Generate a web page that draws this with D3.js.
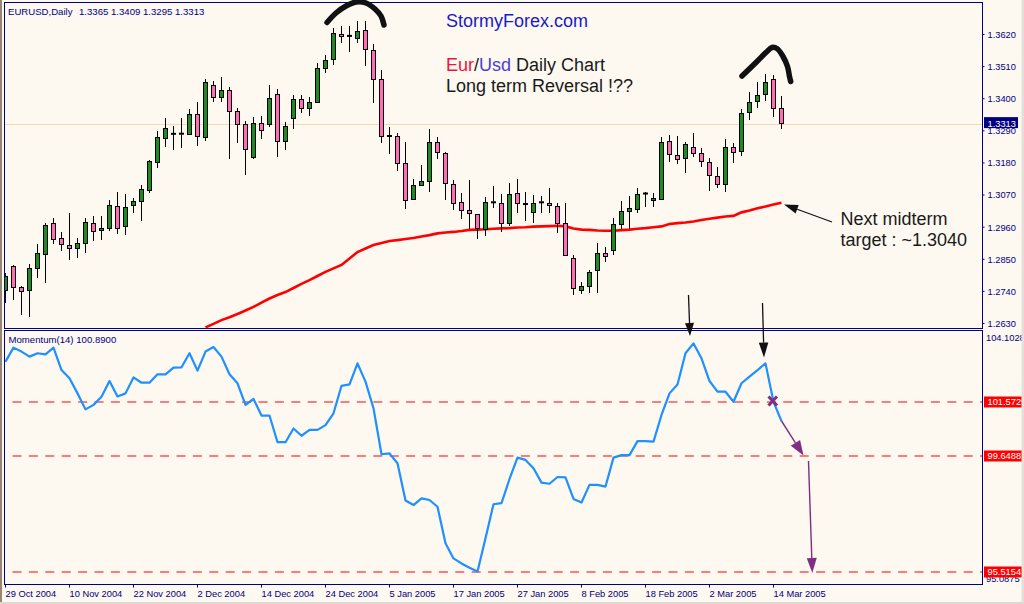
<!DOCTYPE html>
<html><head><meta charset="utf-8">
<script src="https://cdn.jsdelivr.net/npm/d3@7"></script>
<style>
html,body{margin:0;padding:0;background:#fdf8f0;}
svg{display:block;}
text{font-family:"Liberation Sans",Arial,sans-serif;}
</style></head><body>
<svg id="c" width="1024" height="604"></svg>
<script>
// ---------------- DATA ----------------
const tickLabels = ["29 Oct 2004","10 Nov 2004","22 Nov 2004","2 Dec 2004","14 Dec 2004","24 Dec 2004","5 Jan 2005","17 Jan 2005","27 Jan 2005","8 Feb 2005","18 Feb 2005","2 Mar 2005","14 Mar 2005"];
const tickBars = [0,8,16,24,32,40,48,56,64,72,80,88,96];
const priceTicks = [1.3620,1.3510,1.3400,1.3290,1.3180,1.3070,1.2960,1.2850,1.2740,1.2630];

const open = [1.2743,1.2825,1.2752,1.2741,1.2819,1.2867,1.2973,1.2920,1.2896,1.2888,
1.2903,1.2973,1.2946,1.2953,1.3030,1.2961,1.3033,1.3046,1.3083,1.3183,
1.3266,1.3277,1.3279,1.3277,1.3345,1.3266,1.3444,1.3403,1.3428,1.3355,
1.3311,1.3198,1.3314,1.3311,1.3413,1.3252,1.3331,1.3396,1.3365,1.3386,
1.3502,1.3533,1.3620,1.3614,1.3607,1.3633,1.3564,1.3465,1.3270,1.3270,
1.3177,1.3054,1.3102,1.3114,1.3249,1.3211,1.3105,1.3043,1.3016,1.3002,
1.2953,1.3043,1.3040,1.2972,1.3075,1.3038,1.3009,1.3043,1.3040,1.3030,
1.2972,1.2852,1.2746,1.2757,1.2812,1.2871,1.2880,1.2969,1.3015,1.3021,
1.3073,1.3049,1.3055,1.3254,1.3204,1.3194,1.3234,1.3213,1.3183,1.3134,
1.3106,1.3234,1.3220,1.3352,1.3388,1.3417,1.3465,1.3365];
const high = [1.2800,1.2829,1.2757,1.2832,1.2901,1.2972,1.2989,1.2942,1.3007,1.2920,
1.2990,1.2997,1.2997,1.3051,1.3079,1.3072,1.3057,1.3103,1.3188,1.3288,
1.3331,1.3305,1.3333,1.3362,1.3387,1.3465,1.3460,1.3473,1.3438,1.3367,
1.3322,1.3335,1.3340,1.3445,1.3432,1.3318,1.3411,1.3411,1.3405,1.3522,
1.3548,1.3640,1.3647,1.3646,1.3666,1.3666,1.3586,1.3497,1.3300,1.3282,
1.3249,1.3123,1.3171,1.3296,1.3268,1.3215,1.3120,1.3074,1.3120,1.3005,
1.3063,1.3100,1.3072,1.3109,1.3123,1.3078,1.3068,1.3065,1.3091,1.3040,
1.3040,1.2863,1.2771,1.2812,1.2903,1.2891,1.2989,1.3047,1.3066,1.3091,
1.3080,1.3076,1.3268,1.3274,1.3271,1.3249,1.3280,1.3228,1.3194,1.3165,
1.3259,1.3246,1.3362,1.3422,1.3455,1.3482,1.3480,1.3409];
const low = [1.2700,1.2709,1.2657,1.2652,1.2785,1.2768,1.2902,1.2877,1.2847,1.2854,
1.2871,1.2912,1.2914,1.2946,1.2936,1.2931,1.3008,1.2980,1.3076,1.3160,
1.3234,1.3223,1.3231,1.3273,1.3237,1.3254,1.3388,1.3388,1.3191,1.3248,
1.3138,1.3193,1.3259,1.3302,1.3200,1.3224,1.3295,1.3350,1.3340,1.3383,
1.3485,1.3513,1.3590,1.3557,1.3590,1.3511,1.3385,1.3248,1.3209,1.3152,
1.3021,1.3051,1.3100,1.3079,1.3191,1.3051,1.3017,1.2986,1.2953,1.2919,
1.2929,1.3025,1.2941,1.2963,1.3006,1.2979,1.2974,1.3008,1.3006,1.2937,
1.2860,1.2726,1.2729,1.2734,1.2734,1.2840,1.2863,1.2951,1.2951,1.3008,
1.3026,1.3026,1.3051,1.3183,1.3173,1.3143,1.3200,1.3165,1.3083,1.3091,
1.3080,1.3177,1.3203,1.3325,1.3368,1.3390,1.3335,1.3295];
const close = [1.2792,1.2752,1.2737,1.2817,1.2870,1.2966,1.2919,1.2898,1.2885,1.2904,
1.2975,1.2946,1.2954,1.3033,1.2956,1.3026,1.3047,1.3088,1.3184,1.3268,
1.3299,1.3279,1.3278,1.3345,1.3270,1.3455,1.3403,1.3428,1.3355,1.3311,
1.3225,1.3314,1.3291,1.3400,1.3252,1.3305,1.3396,1.3365,1.3386,1.3502,
1.3530,1.3622,1.3613,1.3613,1.3630,1.3568,1.3465,1.3270,1.3271,1.3177,
1.3050,1.3102,1.3115,1.3249,1.3215,1.3109,1.3040,1.3015,1.3006,1.2953,
1.3044,1.3044,1.2972,1.3072,1.3040,1.3037,1.3041,1.3044,1.3032,1.2972,
1.2863,1.2749,1.2758,1.2806,1.2871,1.2862,1.2968,1.3015,1.3024,1.3071,
1.3074,1.3057,1.3251,1.3209,1.3191,1.3242,1.3213,1.3185,1.3137,1.3106,
1.3234,1.3216,1.3350,1.3386,1.3410,1.3457,1.3365,1.3313];

const maStartBar = 25;
const movingAvg = [1.2615,1.2627,1.2640,1.2650,1.2661,1.2673,1.2685,1.2700,1.2714,1.2726,
1.2736,1.2750,1.2764,1.2777,1.2791,1.2805,1.2817,1.2829,1.2851,1.2873,
1.2885,1.2897,1.2904,1.2911,1.2914,1.2918,1.2921,1.2926,1.2931,1.2937,
1.2940,1.2942,1.2945,1.2949,1.2950,1.2951,1.2953,1.2954,1.2955,1.2957,
1.2958,1.2960,1.2961,1.2962,1.2963,1.2961,1.2954,1.2950,1.2949,1.2947,
1.2946,1.2946,1.2948,1.2950,1.2953,1.2955,1.2958,1.2961,1.2969,1.2972,
1.2974,1.2978,1.2983,1.2987,1.2991,1.2995,1.2997,1.3009,1.3015,1.3023,
1.3029,1.3036,1.3042];

const momentum = [103.01,103.51,103.37,103.19,103.31,103.27,103.51,102.71,102.42,101.88,
101.31,101.47,101.76,102.32,101.77,101.88,102.45,102.26,102.26,102.56,
102.56,102.80,102.81,103.31,102.69,103.37,103.53,103.19,102.56,102.24,
101.47,101.68,101.09,101.09,100.14,100.14,100.63,100.37,100.58,100.58,
100.75,101.17,102.15,102.20,102.95,102.30,101.35,99.71,99.74,99.39,
98.06,97.90,98.14,98.08,97.84,96.54,96.00,95.82,95.67,95.53,
96.72,97.93,97.97,98.83,99.59,99.51,99.21,98.70,98.66,98.90,
98.89,98.12,97.99,98.62,98.62,98.56,99.59,99.68,99.68,100.18,
100.18,100.16,101.11,101.88,102.20,103.31,103.66,103.13,102.32,101.94,
101.94,101.58,102.24,102.48,102.71,102.95,101.58,100.89];

const momLevels = [101.5729, 99.6488, 95.5154];
const momRange = [95.0875, 104.1028];
const lastPrice = 1.3313;
const headerSymbol = "EURUSD,Daily";
const headerOHLC = "1.3365 1.3409 1.3295 1.3313";
const momLabel = "Momentum(14) 100.8900";

// ---------------- LAYOUT ----------------
const svg = d3.select("#c");
const NAVY = "#000080";
const L = 4.5, R = 982.5, T1 = 2.5, B1 = 328.5, T2 = 330.5, B2 = 584.5;

const x = d3.scaleLinear().domain([0, 97]).range([5.5, 781.5]);
const yP = d3.scaleLinear().domain([1.2630, 1.3620]).range([323, 34]);
const yM = d3.scaleLinear().domain(momRange).range([584, 331]);

svg.append("rect").attr("width",1024).attr("height",604).attr("fill","#fdf8f0");

const defs = svg.append("defs");
defs.append("clipPath").attr("id","clipTop").append("rect")
  .attr("x",L+0.5).attr("y",T1+0.5).attr("width",R-L-1).attr("height",B1-T1-1);
defs.append("clipPath").attr("id","clipBot").append("rect")
  .attr("x",L+0.5).attr("y",T2+0.5).attr("width",R-L-1).attr("height",B2-T2-1);

// ---------------- UPPER PANEL ----------------
const gTop = svg.append("g").attr("clip-path","url(#clipTop)");
// current price line
gTop.append("line").attr("x1",L).attr("x2",R)
  .attr("y1",Math.round(yP(lastPrice))+0.5).attr("y2",Math.round(yP(lastPrice))+0.5)
  .attr("stroke","#f3d8b8").attr("stroke-width",1);

// moving average
const maData = movingAvg.map((v,k)=>({i:maStartBar+k, v}));
gTop.append("path").datum(maData)
  .attr("d", d3.line().x(d=>x(d.i)).y(d=>yP(d.v)))
  .attr("fill","none").attr("stroke","#ff0000").attr("stroke-width",2.6);

const bars = open.map((o,i)=>({i, o, h:high[i], l:low[i], c:close[i]}));
const xc = d => Math.floor(x(d.i)) + 0.5;
gTop.selectAll("line.wick").data(bars).join("line").attr("class","wick")
  .attr("x1",xc).attr("x2",xc)
  .attr("y1",d=>yP(d.h)).attr("y2",d=>yP(d.l))
  .attr("stroke","#000").attr("stroke-width",1).attr("shape-rendering","crispEdges");
const isDoji = d => Math.abs(d.c - d.o) < 0.0003;
gTop.selectAll("rect.body").data(bars.filter(d=>!isDoji(d))).join("rect").attr("class","body")
  .attr("x",d=>xc(d)-2).attr("width",4)
  .attr("y",d=>Math.round(yP(Math.max(d.o,d.c)))+0.5)
  .attr("height",d=>Math.max(1, Math.round(Math.abs(yP(d.o)-yP(d.c)))))
  .attr("fill",d=>d.c>=d.o?"#1f8a1f":"#ff6db5")
  .attr("stroke","#000").attr("stroke-width",1).attr("shape-rendering","crispEdges");
gTop.selectAll("line.doji").data(bars.filter(isDoji)).join("line").attr("class","doji")
  .attr("x1",d=>xc(d)-2.5).attr("x2",d=>xc(d)+2.5)
  .attr("y1",d=>yP((d.o+d.c)/2)).attr("y2",d=>yP((d.o+d.c)/2))
  .attr("stroke","#000").attr("stroke-width",2);

// ---------------- LOWER PANEL ----------------
const gBot = svg.append("g").attr("clip-path","url(#clipBot)");
gBot.selectAll("line.lvl").data(momLevels).join("line").attr("class","lvl")
  .attr("x1",12.5).attr("x2",R)
  .attr("y1",d=>yM(d)).attr("y2",d=>yM(d))
  .attr("stroke","#ff0000").attr("stroke-width",1.2).attr("stroke-dasharray","9,7.4");
gBot.append("path").datum(momentum)
  .attr("d", d3.line().x((d,i)=>x(i)).y(d=>yM(d)))
  .attr("fill","none").attr("stroke","#1e90ff").attr("stroke-width",2.2)
  .attr("stroke-linejoin","round");

// ---------------- FRAMES ----------------
svg.append("rect").attr("x",L).attr("y",T1).attr("width",R-L).attr("height",B1-T1)
  .attr("fill","none").attr("stroke",NAVY).attr("stroke-width",1);
svg.append("rect").attr("x",L).attr("y",T2).attr("width",R-L).attr("height",B2-T2)
  .attr("fill","none").attr("stroke",NAVY).attr("stroke-width",1);

// ---------------- AXES ----------------
const axP = svg.append("g").attr("transform",`translate(${R},0)`)
  .call(d3.axisRight(yP).tickValues(priceTicks).tickFormat(d3.format(".4f")).tickSize(2).tickPadding(3));
axP.select(".domain").remove();
axP.selectAll("line").attr("stroke",NAVY);
axP.selectAll("text").attr("fill",NAVY).style("font-size","9.3px")
  .style("font-family",'"Liberation Sans",Arial,sans-serif').attr("dy","0.36em");

// last price box
const lpY = yP(lastPrice);
svg.append("rect").attr("x",984).attr("y",lpY-6.5).attr("width",34).attr("height",11).attr("fill",NAVY);
svg.append("text").attr("x",987.5).attr("y",lpY+3).attr("fill","#fff")
  .style("font-size","9.3px").text(d3.format(".4f")(lastPrice));

// momentum range labels
svg.append("text").attr("x",986).attr("y",yM(momRange[1])+10).attr("fill",NAVY)
  .style("font-size","9.3px").text(d3.format(".4f")(momRange[1]));
svg.append("text").attr("x",986).attr("y",yM(momRange[0])-2).attr("fill",NAVY)
  .style("font-size","9.3px").text(d3.format(".4f")(momRange[0]));
const lvlG = svg.selectAll("g.lvlLab").data(momLevels).join("g").attr("class","lvlLab")
  .attr("transform",d=>`translate(984,${yM(d)})`);
lvlG.append("rect").attr("x",0).attr("y",-5.5).attr("width",40).attr("height",11).attr("fill","#ff0000");
lvlG.append("text").attr("x",3.5).attr("y",3.5).attr("fill","#fff")
  .style("font-size","9.3px").text(d=>d3.format(".4f")(d));

// date axis
const axD = svg.append("g").attr("transform",`translate(0,${B2})`)
  .call(d3.axisBottom(x).tickValues(tickBars).tickFormat((d,i)=>tickLabels[i]).tickSize(3).tickPadding(3));
axD.select(".domain").remove();
axD.selectAll("line").attr("stroke",NAVY).attr("transform","translate(-0.5,0)");
axD.selectAll("text").attr("fill",NAVY).attr("text-anchor","start").attr("dx","-0.5")
  .style("font-size","9.3px").style("font-family",'"Liberation Sans",Arial,sans-serif');

// window edges
svg.append("rect").attr("x",0).attr("y",0).attr("width",2).attr("height",604).attr("fill","#978673");
svg.append("rect").attr("x",1021.5).attr("y",0).attr("width",3).attr("height",604).attr("fill","#e3e0db");
svg.append("rect").attr("x",0).attr("y",602).attr("width",1024).attr("height",2).attr("fill","#dcd8d2");

// ---------------- HEADER LABELS ----------------
svg.append("text").attr("x",8).attr("y",14.5).attr("fill",NAVY).style("font-size","9.6px").text(headerSymbol);
svg.append("text").attr("x",79).attr("y",14.5).attr("fill",NAVY).style("font-size","9.6px").text(headerOHLC);
svg.append("text").attr("x",8.5).attr("y",343).attr("fill",NAVY).style("font-size","9.6px").text(momLabel);

// ---------------- ANNOTATIONS ----------------
const t1 = svg.append("text").attr("x",446).attr("y",27).style("font-size","18px").attr("fill","#1a1ac8").text("StormyForex.com");
const t2 = svg.append("text").attr("x",446).attr("y",70.5).style("font-size","18px");
t2.append("tspan").attr("fill","#f0143c").text("Eur");
t2.append("tspan").attr("fill","#1a1a1a").text("/");
t2.append("tspan").attr("fill","#4b3fd8").text("Usd");
t2.append("tspan").attr("fill","#1a1a1a").text(" Daily Chart");
svg.append("text").attr("x",446).attr("y",92).style("font-size","18px").attr("fill","#1a1a1a").text("Long term Reversal !??");
svg.append("text").attr("x",840.5).attr("y",224.5).style("font-size","18px").attr("fill","#1a1a1a").text("Next midterm");
svg.append("text").attr("x",840.5).attr("y",245.5).style("font-size","18px").attr("fill","#1a1a1a").text("target : ~1.3040");

function arrow(x1,y1,x2,y2,color,w,hl,hw){
  const a = Math.atan2(y2-y1,x2-x1);
  const bx = x2 - hl*Math.cos(a), by = y2 - hl*Math.sin(a);
  svg.append("line").attr("x1",x1).attr("y1",y1).attr("x2",bx).attr("y2",by)
    .attr("stroke",color).attr("stroke-width",w);
  const px = -Math.sin(a)*hw/2, py = Math.cos(a)*hw/2;
  svg.append("path").attr("d",`M${x2},${y2}L${bx+px},${by+py}L${bx-px},${by-py}Z`).attr("fill",color);
}
arrow(832,222, 784,204.5, "#111",1.2,14,9);
arrow(688.5,295, 690,336, "#111",1.3,13,9);
arrow(762.5,303, 764,357.5, "#111",1.3,15,9.5);
const PURP = "#7e2f82";
arrow(781.5,421, 803.5,455.5, PURP,1.4,15,11);
arrow(808.5,461, 812.3,573, PURP,1.4,15,10);
// purple x mark
svg.append("path").attr("d","M768.5,396.5L777,405.5M777,396.5L768.5,405.5")
  .attr("stroke",PURP).attr("stroke-width",3).attr("stroke-linecap","butt");

// hand-drawn carets
const hand = d3.line().curve(d3.curveCatmullRom);
svg.append("path").attr("d",hand([[327,22.5],[336,13],[346,6],[356,2],[366,3],[375,9],[381,16],[384,25]]))
  .attr("fill","none").attr("stroke","#111").attr("stroke-width",5.5).attr("stroke-linecap","round");
svg.append("path").attr("d",hand([[742,76],[756.5,62],[766.5,52],[772,47.5],[777,48.5],[783,56.5],[787.5,66.5],[789.5,76.5],[790.7,81.5]]))
  .attr("fill","none").attr("stroke","#111").attr("stroke-width",5.5).attr("stroke-linecap","round");
</script>
</body></html>
